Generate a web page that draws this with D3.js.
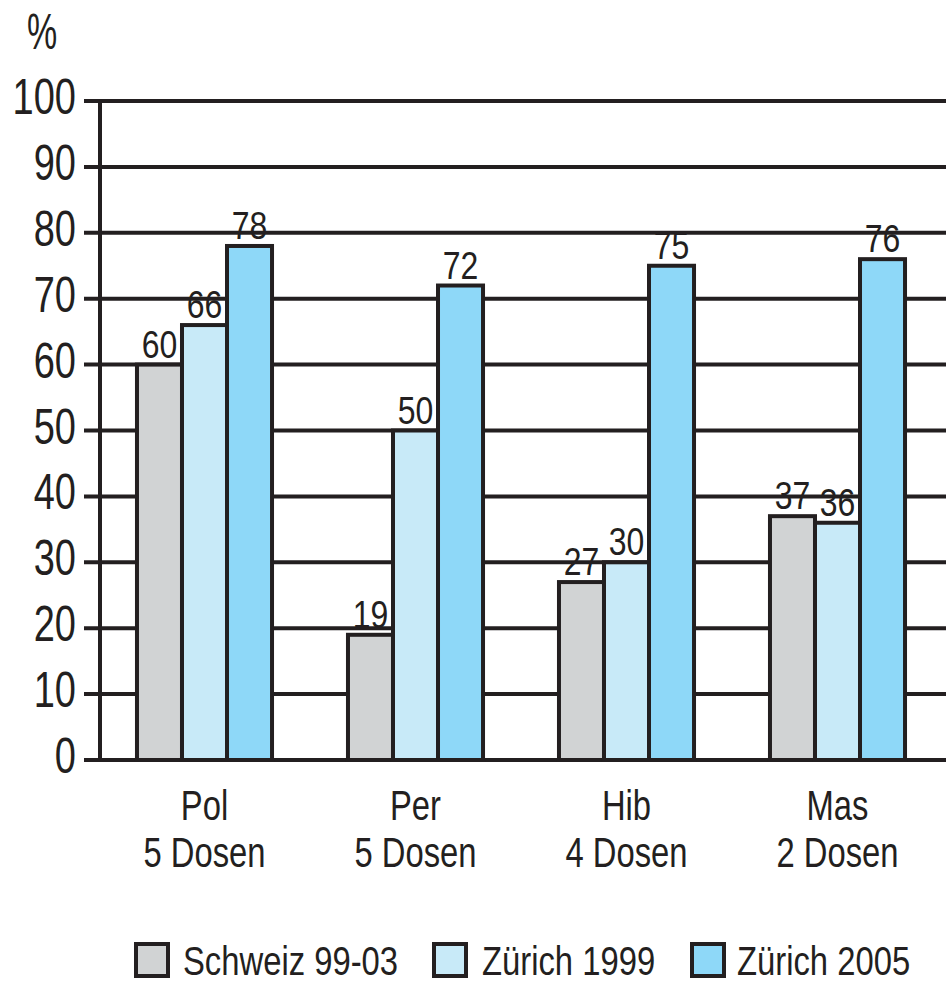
<!DOCTYPE html>
<html lang="de">
<head>
    <meta charset="UTF-8">
    <title>Durchimpfung</title>
    <script src="https://d3js.org/d3.v7.min.js"></script>
    <style>
        body { margin: 0; background: white; }
        svg { display: block; }
        text { font-family: "Liberation Sans", Arial, sans-serif; fill: #231f20; }
    </style>
</head>
<body>
    <svg width="946" height="984"></svg>

    <script>
        const svg = d3.select("svg");
        const width = +svg.attr("width");
        const ink = "#231f20";

        const categories = ["Pol", "Per", "Hib", "Mas"];
        const doses = ["5 Dosen", "5 Dosen", "4 Dosen", "2 Dosen"];
        const series = ["Schweiz 99-03", "Zürich 1999", "Zürich 2005"];
        const colors = ["#d1d3d4", "#c8eaf8", "#8ed8f8"];
        const schweiz = [60, 19, 27, 37];
        const zuerich1999 = [66, 50, 30, 36];
        const zuerich2005 = [78, 72, 75, 76];
        const yTicks = [0, 10, 20, 30, 40, 50, 60, 70, 80, 90, 100];

        const values = [schweiz, zuerich1999, zuerich2005];

        // schmale Schrift nachbilden: horizontal stauchen
        function narrow(sel, fx, fy, sx) {
            sel.attr("transform", (d, i) => `translate(${fx(d, i)},${fy(d, i)}) scale(${sx},1)`);
        }

        const y = d3.scaleLinear().domain([0, 100]).range([760, 101]);
        const x0 = d3.scaleBand().domain(categories).range([99, 943])
            .paddingInner(0.36).paddingOuter(0.18);
        const x1 = d3.scaleBand().domain(series).range([0, x0.bandwidth()]);

        // Gitterlinien
        svg.append("g").selectAll("line").data(yTicks).join("line")
            .attr("x1", 84).attr("x2", width)
            .attr("y1", d => y(d)).attr("y2", d => y(d))
            .attr("stroke", ink).attr("stroke-width", 4);

        // y-Achse
        svg.append("line")
            .attr("x1", 100).attr("x2", 100)
            .attr("y1", y(100)).attr("y2", y(0))
            .attr("stroke", ink).attr("stroke-width", 4);

        svg.append("g").selectAll("text").data(yTicks).join("text")
            .attr("text-anchor", "end")
            .style("font-size", "50px")
            .text(d => d)
            .call(narrow, () => 76, d => y(d) + 13, 0.76);

        svg.append("text")
            .style("font-size", "50px").text("%")
            .call(narrow, () => 27, () => 49, 0.68);

        // Balken
        const groups = svg.append("g").selectAll("g").data(categories).join("g")
            .attr("transform", d => `translate(${x0(d)},0)`);

        const cells = (c, i) => series.map((s, j) => ({ s, j, v: values[j][i] }));

        groups.selectAll("rect").data(cells).join("rect")
            .attr("x", d => x1(d.s))
            .attr("width", x1.bandwidth())
            .attr("y", d => y(d.v))
            .attr("height", d => y(0) - y(d.v))
            .attr("fill", d => colors[d.j])
            .attr("stroke", ink).attr("stroke-width", 4);

        groups.selectAll("text.val").data(cells).join("text").attr("class", "val")
            .attr("text-anchor", "middle")
            .style("font-size", "39px")
            .text(d => d.v)
            .call(narrow, d => x1(d.s) + x1.bandwidth() / 2, d => y(d.v) - 7, 0.82);

        // Kategorien
        groups.append("text")
            .attr("text-anchor", "middle").style("font-size", "42px")
            .text(d => d)
            .call(narrow, () => x0.bandwidth() / 2, () => 820, 0.78);
        groups.append("text")
            .attr("text-anchor", "middle").style("font-size", "42px")
            .text((d, i) => doses[i])
            .call(narrow, () => x0.bandwidth() / 2, () => 867, 0.78);

        // Legende
        const legendX = [136, 434, 692];
        const legendText = [183, 482, 737];
        const legend = svg.append("g").selectAll("g").data(series).join("g");
        legend.append("rect")
            .attr("x", (d, i) => legendX[i]).attr("y", 944)
            .attr("width", 32).attr("height", 32)
            .attr("fill", (d, i) => colors[i])
            .attr("stroke", ink).attr("stroke-width", 4);
        legend.append("text")
            .style("font-size", "41px")
            .text(d => d)
            .call(narrow, (d, i) => legendText[i], () => 975, 0.8);
    </script>
</body>
</html>
